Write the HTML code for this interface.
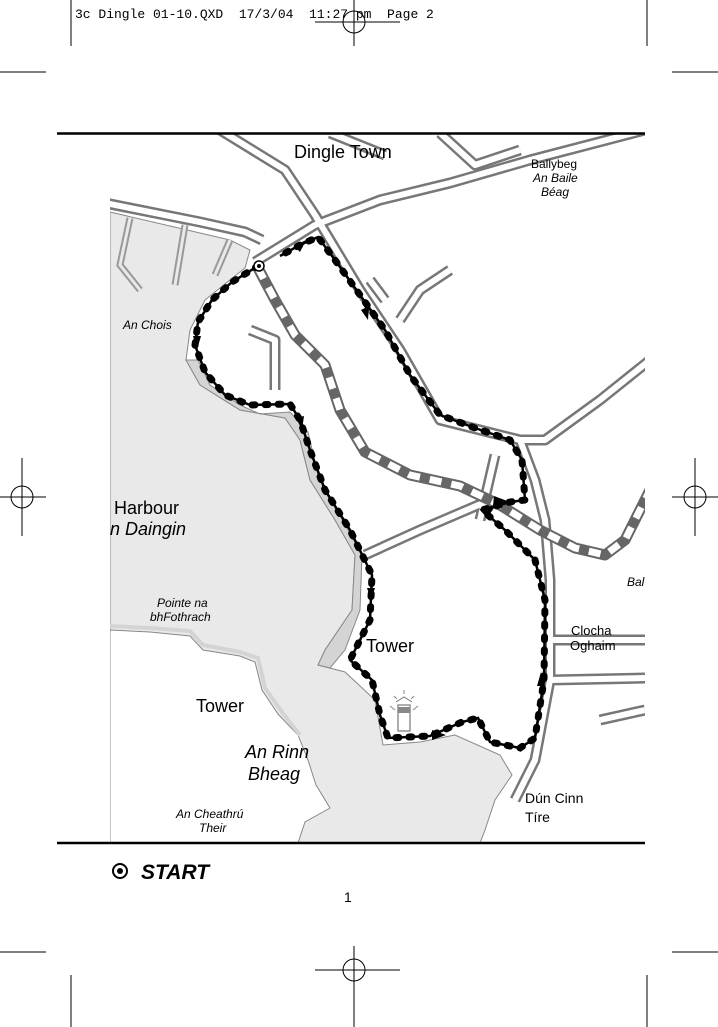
<!DOCTYPE html>
<html><head><meta charset="utf-8"><style>
html,body{margin:0;padding:0;background:#fff;}
svg{display:block;}
text{font-family:"Liberation Sans",sans-serif;}
</style></head><body>
<svg width="718" height="1027" viewBox="0 0 718 1027" xmlns="http://www.w3.org/2000/svg">
<g stroke="#000" stroke-width="1" fill="none">
<line x1="71" y1="0" x2="71" y2="46"/><line x1="647" y1="0" x2="647" y2="46"/>
<line x1="0" y1="72" x2="46" y2="72"/><line x1="672" y1="72" x2="718" y2="72"/>
<circle cx="354" cy="22" r="11"/><line x1="315" y1="22" x2="400" y2="22"/><line x1="354" y1="0" x2="354" y2="46"/>
<circle cx="22" cy="497" r="11"/><line x1="0" y1="497" x2="46" y2="497"/><line x1="22" y1="458" x2="22" y2="536"/>
<circle cx="695" cy="497" r="11"/><line x1="672" y1="497" x2="718" y2="497"/><line x1="695" y1="458" x2="695" y2="536"/>
<line x1="0" y1="952" x2="46" y2="952"/><line x1="672" y1="952" x2="718" y2="952"/>
<line x1="71" y1="975" x2="71" y2="1027"/><line x1="647" y1="975" x2="647" y2="1027"/>
<circle cx="354" cy="970" r="11"/><line x1="315" y1="970" x2="400" y2="970"/><line x1="354" y1="946" x2="354" y2="1027"/>
</g>
<text x="75" y="18" font-size="13" xml:space="preserve" style="font-family:'Liberation Mono',monospace;white-space:pre">3c Dingle 01-10.QXD  17/3/04  11:27 pm  Page 2</text>

<clipPath id="m"><rect x="110" y="134" width="535" height="708"/></clipPath>
<g clip-path="url(#m)">
<path d="M110,212 L230,240 L250,250 L245,268 L205,300 L190,330 L186,360 L200,385 L240,410 L285,418 L300,440 L310,480 L335,520 L355,555 L352,610 L325,650 L318,665 L345,672 L375,700 L383,745 L420,742 L455,735 L500,755 L512,775 L495,800 L485,830 L480,843 L110,843 Z" fill="#e9e9e9" stroke="#888" stroke-width="1"/>
<path d="M186,360 L200,385 L240,410 L285,418 L300,440 L310,480 L335,520 L355,555 L352,610 L325,650 L318,665 L330,668 L345,650 L360,610 L362,555 L340,515 L318,475 L308,432 L290,412 L260,414 L240,405 L210,385 L198,360 Z" fill="#d4d4d4" stroke="#888" stroke-width="1"/>
<!-- SW land -->
<path d="M110,630 L150,632 L190,636 L203,650 L240,656 L255,662 L262,690 L278,714 L298,735 L308,760 L316,785 L330,808 L305,822 L298,843 L110,843 Z" fill="#fff" stroke="#888" stroke-width="1"/>
<path d="M110,626 L150,628 L190,631 L203,645 L240,652 L258,658 L265,688 L282,712 L300,735" fill="none" stroke="#d4d4d4" stroke-width="4"/>
<g stroke="#999" stroke-width="7" fill="none"><path d="M130,218 L120,265 L140,290"/><path d="M185,225 L175,285"/><path d="M230,240 L215,275"/></g>
<g stroke="#e9e9e9" stroke-width="3" fill="none"><path d="M130,218 L120,265 L140,290"/><path d="M185,225 L175,285"/><path d="M230,240 L215,275"/></g>
<g fill="none" stroke-linejoin="round">
<g stroke="#777" stroke-width="11">
<path d="M105,203 L200,222 L245,232 L262,240"/>
<path d="M255,262 L315,225 L380,200 L450,183 L530,160 L645,130"/>
<path d="M220,130 L285,170 L315,215 L360,290 L400,350 L440,420 L520,440 L545,440 L600,400 L650,360"/>
<path d="M330,133 L385,155"/><path d="M440,133 L475,165 L520,150"/>
<path d="M520,440 L535,480 L545,520 L550,580 L550,680 L535,760 L515,800"/>
<path d="M365,555 L420,530 L490,500"/>
<path d="M550,680 L645,678"/><path d="M550,640 L645,640"/>
<path d="M385,300 L370,280"/><path d="M400,320 L420,290 L450,270"/>
<path d="M250,330 L275,340 L275,390"/><path d="M495,455 L480,520"/>
<path d="M600,720 L645,710"/>
</g>
<g stroke="#fff" stroke-width="6">
<path d="M105,203 L200,222 L245,232 L262,240"/>
<path d="M255,262 L315,225 L380,200 L450,183 L530,160 L645,130"/>
<path d="M220,130 L285,170 L315,215 L360,290 L400,350 L440,420 L520,440 L545,440 L600,400 L650,360"/>
<path d="M330,133 L385,155"/><path d="M440,133 L475,165 L520,150"/>
<path d="M520,440 L535,480 L545,520 L550,580 L550,680 L535,760 L515,800"/>
<path d="M365,555 L420,530 L490,500"/>
<path d="M550,680 L645,678"/><path d="M550,640 L645,640"/>
<path d="M385,300 L370,280"/><path d="M400,320 L420,290 L450,270"/>
<path d="M250,330 L275,340 L275,390"/><path d="M495,455 L480,520"/>
<path d="M600,720 L645,710"/>
</g>
<path d="M258,268 L275,300 L295,335 L325,365 L340,410 L365,452 L410,475 L460,486 L500,505 L540,530 L575,548 L605,555 L625,540 L650,490" stroke="#666" stroke-width="11"/>
<path d="M258,268 L275,300 L295,335 L325,365 L340,410 L365,452 L410,475 L460,486 L500,505 L540,530 L575,548 L605,555 L625,540 L650,490" stroke="#fff" stroke-width="7" stroke-dasharray="12 10"/>
</g>
<path id="rt" d="M258,266 L232,282 L212,300 L198,322 L195,345 L205,372 L225,395 L250,405 L290,404 L300,420 L310,450 L325,490 L350,530 L372,575 L370,620 L350,660 L372,680 L380,715 L388,738 L430,736 L462,722 L478,718 L490,742 L520,748 L535,738 L544,680 L545,600 L535,560 L505,530 L482,510 L510,502 L525,500 L522,460 L510,440 L475,428 L440,415 L410,375 L385,330 L360,295 L335,260 L318,237 L300,245 L280,256" fill="none" stroke="#000" stroke-width="2.5"/>
<path d="M258,266 L232,282 L212,300 L198,322 L195,345 L205,372 L225,395 L250,405 L290,404 L300,420 L310,450 L325,490 L350,530 L372,575 L370,620 L350,660 L372,680 L380,715 L388,738 L430,736 L462,722 L478,718 L490,742 L520,748 L535,738 L544,680 L545,600 L535,560 L505,530 L482,510 L510,502 L525,500 L522,460 L510,440 L475,428 L440,415 L410,375 L385,330 L360,295 L335,260 L318,237 L300,245 L280,256" fill="none" stroke="#000" stroke-width="7" stroke-linecap="round" stroke-dasharray="3 10"/>
<g fill="#000">
<polygon points="294,246 306,240 300,252"/>
<polygon points="193,336 201,336 197,350"/>
<polygon points="296,418 304,416 302,430"/>
<polygon points="367,588 375,588 371,600"/>
<polygon points="432,730 446,735 432,740"/>
<polygon points="537,686 545,686 541,672"/>
<polygon points="493,506 510,502 494,496"/>
<polygon points="480,510 494,508 487,518"/>
<polygon points="361,310 369,306 368,320"/>
</g>
<circle cx="259" cy="266" r="5" fill="#fff" stroke="#000" stroke-width="1.5"/><circle cx="259" cy="266" r="2" fill="#000"/>
<rect x="398" y="705" width="12" height="26" fill="#fff" stroke="#777" stroke-width="1.2"/>
<rect x="398" y="707" width="12" height="6" fill="#888"/>
<path d="M396,702 L404,697 L412,702" fill="none" stroke="#777"/>
<g stroke="#888" stroke-width="1"><line x1="390" y1="706" x2="395" y2="710"/><line x1="418" y1="706" x2="413" y2="710"/><line x1="404" y1="690" x2="404" y2="694"/><line x1="394" y1="696" x2="397" y2="699"/><line x1="414" y1="696" x2="411" y2="699"/></g>
<text x="294" y="158" font-size="18">Dingle Town</text>
<text x="531" y="168" font-size="12">Ballybeg</text>
<text x="533" y="182" font-size="12" font-style="italic">An Baile</text>
<text x="541" y="196" font-size="12" font-style="italic">Béag</text>
<text x="123" y="329" font-size="12" font-style="italic">An Chois</text>
<text x="114" y="514" font-size="18">Harbour</text>
<text x="110" y="535" font-size="18" font-style="italic">n Daingin</text>
<text x="157" y="607" font-size="12" font-style="italic">Pointe na</text>
<text x="150" y="621" font-size="12" font-style="italic">bhFothrach</text>
<text x="366" y="652" font-size="18">Tower</text>
<text x="196" y="712" font-size="18">Tower</text>
<text x="245" y="758" font-size="18" font-style="italic">An Rinn</text>
<text x="248" y="780" font-size="18" font-style="italic">Bheag</text>
<text x="176" y="818" font-size="12" font-style="italic">An Cheathrú</text>
<text x="199" y="832" font-size="12" font-style="italic">Their</text>
<text x="571" y="635" font-size="13">Clocha</text>
<text x="570" y="650" font-size="13">Oghaim</text>
<text x="525" y="803" font-size="14">Dún Cinn</text>
<text x="525" y="822" font-size="14">Tíre</text>
<text x="627" y="586" font-size="12" font-style="italic">Bal</text>
</g>
<line x1="57" y1="133.5" x2="645" y2="133.5" stroke="#000" stroke-width="2.5"/>
<line x1="57" y1="843" x2="645" y2="843" stroke="#000" stroke-width="2.5"/>
<circle cx="120" cy="871" r="7" fill="none" stroke="#000" stroke-width="2"/><circle cx="120" cy="871" r="3" fill="#000"/>
<text x="141" y="879" font-size="21" font-weight="bold" font-style="italic">START</text>
<text x="344" y="902" font-size="14">1</text>
</svg>
</body></html>
